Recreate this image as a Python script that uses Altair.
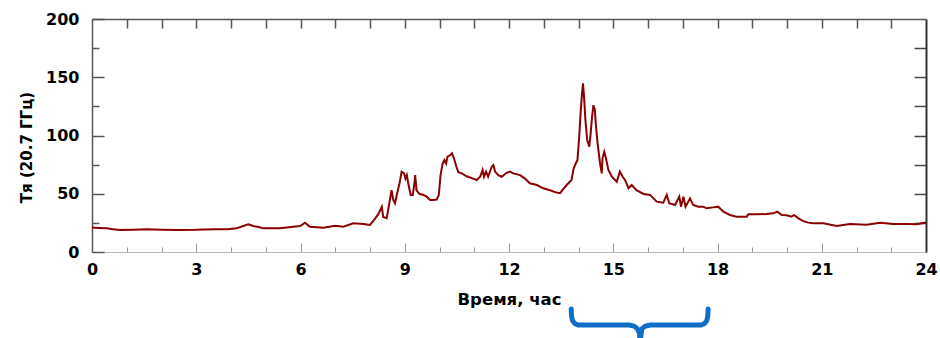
import altair as alt
import pandas as pd

# --- data ---
hours = [0.00, 0.20, 0.42, 0.60, 0.81, 1.20, 1.57, 2.00, 2.53, 3.00, 3.49, 3.90, 4.16, 4.35, 4.50,
         4.64, 4.80, 4.93, 5.41, 5.79, 5.99, 6.13, 6.27, 6.66, 7.00, 7.23, 7.52, 7.81, 8.00, 8.14,
         8.24, 8.34, 8.38, 8.48, 8.53, 8.58, 8.62, 8.67, 8.72, 8.77, 8.85, 8.91, 8.98, 9.02, 9.06,
         9.10, 9.17, 9.23, 9.28, 9.30, 9.34, 9.42, 9.54, 9.63, 9.73, 9.82, 9.92, 9.98, 10.03, 10.09,
         10.14, 10.19, 10.23, 10.30, 10.36, 10.42, 10.49, 10.54, 10.64, 10.78, 10.97, 11.07, 11.17, 11.24, 11.28,
         11.34, 11.40, 11.50, 11.55, 11.60, 11.69, 11.79, 11.93, 12.03, 12.12, 12.32, 12.46, 12.60, 12.80, 12.99,
         13.18, 13.37, 13.47, 13.56, 13.66, 13.80, 13.85, 13.90, 13.97, 14.02, 14.06, 14.10, 14.13, 14.16, 14.20,
         14.25, 14.31, 14.35, 14.39, 14.43, 14.47, 14.50, 14.55, 14.62, 14.67, 14.69, 14.74, 14.79, 14.86, 14.96,
         15.10, 15.19, 15.27, 15.34, 15.44, 15.53, 15.67, 15.87, 16.06, 16.25, 16.44, 16.54, 16.61, 16.78, 16.90,
         16.95, 17.02, 17.08, 17.21, 17.30, 17.45, 17.59, 17.69, 17.88, 18.02, 18.17, 18.36, 18.55, 18.84, 18.89,
         19.13, 19.41, 19.61, 19.72, 19.85, 19.99, 20.13, 20.20, 20.33, 20.47, 20.61, 20.76, 21.05, 21.43, 21.81,
         22.29, 22.68, 23.06, 23.44, 23.73, 24.00]
tb = [21.0, 20.6, 20.3, 19.6, 18.9, 19.2, 19.5, 19.2, 18.9, 19.0, 19.5, 19.6, 20.3, 22.3, 23.7,
      22.3, 21.5, 20.3, 20.3, 21.7, 22.3, 25.2, 21.7, 20.9, 22.6, 21.7, 24.6, 24.0, 23.2, 28.5,
      32.5, 38.9, 30.0, 29.0, 37.5, 46.0, 53.0, 44.6, 41.8, 48.9, 59.0, 69.0, 67.5, 63.0, 66.0,
      59.0, 49.0, 49.0, 59.0, 66.0, 53.0, 50.0, 49.0, 47.5, 44.6, 44.6, 45.0, 49.0, 66.0, 76.0,
      79.0, 76.0, 81.8, 83.0, 84.7, 80.0, 73.0, 68.4, 67.5, 65.0, 63.0, 61.8, 64.6, 70.4, 64.6,
      69.0, 64.6, 73.0, 74.7, 69.0, 66.0, 64.6, 68.0, 69.0, 67.5, 66.0, 63.0, 59.0, 57.5, 54.7,
      53.0, 51.0, 50.5, 54.0, 57.5, 61.8, 70.4, 74.7, 79.0, 99.0, 119.0, 136.0, 144.8, 133.0, 113.0,
      96.0, 90.4, 102.0, 116.0, 126.0, 122.0, 109.0, 93.0, 76.0, 67.5, 80.4, 86.0, 80.4, 70.4, 64.6,
      60.3, 69.0, 64.6, 61.8, 54.7, 57.5, 53.0, 49.8, 49.0, 43.2, 42.3, 49.0, 41.8, 40.3, 47.5,
      38.9, 47.5, 38.9, 46.0, 40.3, 38.9, 38.9, 37.5, 38.3, 38.9, 34.6, 31.8, 30.3, 30.3, 32.4,
      32.4, 32.6, 33.2, 34.6, 31.8, 31.5, 30.3, 31.8, 28.9, 26.5, 25.2, 24.6, 24.6, 22.3, 24.0,
      23.4, 25.2, 24.0, 24.0, 23.8, 25.3]

x_major = [0, 3, 6, 9, 12, 15, 18, 21, 24]
x_minor = [1, 2, 4, 5, 7, 8, 10, 11, 13, 14, 16, 17, 19, 20, 22, 23]
x_all = [1, 2, 3, 4, 5, 6, 7, 8, 9, 10, 11, 12, 13, 14, 15, 16, 17, 18, 19, 20, 21, 22, 23]
y_major = [0, 50, 100, 150, 200]
y_minor = [25, 75, 125, 175]
y_all = [25, 50, 75, 100, 125, 150, 175]

# curly brace annotation under the x axis (in data units)
brace_x = [13.79, 13.80, 13.83, 13.90, 14.00, 15.45, 15.60, 15.70, 15.76, 15.76,
           15.82, 15.92, 16.07, 17.52, 17.62, 17.69, 17.72, 17.73]
brace_y = [-49.0, -55.0, -59.0, -61.6, -62.7, -62.7, -63.6, -66.0, -70.0, -82.0,
           -66.0, -63.6, -62.7, -62.7, -61.6, -59.0, -55.0, -49.0]

df = pd.DataFrame({"hour": hours, "tb": tb})
bdf = pd.DataFrame({"bx": brace_x, "by": brace_y, "ord": list(range(len(brace_x)))})

W, H = 834, 233
FONT = "DejaVu Sans"
xs = alt.Scale(domain=[0, 24], nice=False, zero=False)
ys = alt.Scale(domain=[0, 200], nice=False, zero=False)

main = alt.Chart(df).mark_line(color="#8b0000", strokeWidth=2).encode(
    x=alt.X("hour:Q", scale=xs, axis=alt.Axis(
        orient="bottom", values=x_major, ticks=False, tickSize=0, grid=False,
        domainColor="#b8b8b8", domainWidth=1.2,
        labelFont=FONT, labelFontSize=16, labelFontWeight="bold", labelColor="#000",
        labelPadding=9, labelFlush=False,
        title="Время, час", titleFont=FONT, titleFontSize=16.5, titleFontWeight="bold",
        titleColor="#000", titlePadding=14)),
    y=alt.Y("tb:Q", scale=ys, axis=alt.Axis(
        orient="left", values=y_major, ticks=False, tickSize=0, grid=False,
        domainColor="#555", domainWidth=1.5,
        labelFont=FONT, labelFontSize=16, labelFontWeight="bold", labelColor="#000",
        labelPadding=13, labelFlush=False,
        title="Тя (20.7 ГГц)", titleFont=FONT, titleFontSize=15, titleFontWeight="bold",
        titleColor="#000", titlePadding=11, titleY=128)),
)


def tick_layer(xaxis, yaxis):
    return alt.Chart(df).mark_line(opacity=0).encode(
        x=alt.X("hour:Q", scale=xs, axis=xaxis),
        y=alt.Y("tb:Q", scale=ys, axis=yaxis),
    )


# bottom inward major ticks + left inward major ticks
l2 = tick_layer(
    alt.Axis(orient="top", offset=-H, values=x_major, tickSize=9, tickColor="#999", tickWidth=1,
             labels=False, domain=False, grid=False, title=None),
    alt.Axis(orient="right", offset=-W, values=y_major, tickSize=12, tickColor="#555", tickWidth=1.5,
             labels=False, domain=False, grid=False, title=None),
)
# bottom inward minor ticks + left inward minor ticks
l3 = tick_layer(
    alt.Axis(orient="top", offset=-H, values=x_minor, tickSize=5, tickColor="#999", tickWidth=1,
             labels=False, domain=False, grid=False, title=None),
    alt.Axis(orient="right", offset=-W, values=y_minor, tickSize=7, tickColor="#555", tickWidth=1.5,
             labels=False, domain=False, grid=False, title=None),
)
# top frame with inward ticks + right frame with inward ticks
l4 = tick_layer(
    alt.Axis(orient="bottom", offset=-H, values=x_all, tickSize=9, tickColor="#555", tickWidth=1.5,
             labels=False, domain=True, domainColor="#555", domainWidth=1.5, grid=False, title=None),
    alt.Axis(orient="left", offset=-W, values=y_all, tickSize=12, tickColor="#444", tickWidth=1.5,
             labels=False, domain=True, domainColor="#333", domainWidth=2, grid=False, title=None),
)

brace = alt.Chart(bdf).mark_line(color="#0f6fc6", strokeWidth=5, strokeCap="round",
                                 strokeJoin="round", clip=False).encode(
    x=alt.X("bx:Q", scale=xs, axis=None),
    y=alt.Y("by:Q", scale=ys, axis=None),
    order=alt.Order("ord:Q"),
)

chart = alt.layer(main, l2, l3, l4, brace).resolve_axis(
    x="independent", y="independent"
).properties(
    width=W, height=H,
    autosize=alt.AutoSizeParams(type="none"),
    padding={"left": 92, "top": 19, "right": 14, "bottom": 86},
    background="white",
).configure_view(stroke=None)

chart.save("out.html", embed_options={"renderer": "svg", "actions": False})
